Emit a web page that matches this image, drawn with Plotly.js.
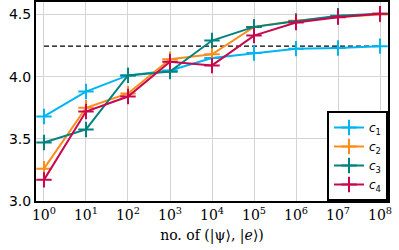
<!DOCTYPE html>
<html><head><meta charset="utf-8">
<script src="https://cdn.plot.ly/plotly-3.0.1.min.js"></script>
<style>body{margin:0;background:#fff}#g{width:399px;height:250px}</style>
</head><body><div id="g"></div>
<script>
const xs = [1, 10, 100, 1e3, 1e4, 1e5, 1e6, 1e7, 1e8];
const xTickText = ["10<sup>0</sup>","10<sup>1</sup>","10<sup>2</sup>","10<sup>3</sup>","10<sup>4</sup>","10<sup>5</sup>","10<sup>6</sup>","10<sup>7</sup>","10<sup>8</sup>"];
const seriesNames = ["<i>c</i><sub>1</sub>","<i>c</i><sub>2</sub>","<i>c</i><sub>3</sub>","<i>c</i><sub>4</sub>"];
const c1 = [3.68, 3.88, 4.01, 4.05, 4.15, 4.19, 4.225, 4.23, 4.245];
const c2 = [3.26, 3.75, 3.865, 4.14, 4.18, 4.40, 4.45, 4.48, 4.50];
const c3 = [3.47, 3.575, 4.01, 4.04, 4.29, 4.40, 4.445, 4.49, 4.505];
const c4 = [3.17, 3.72, 3.84, 4.12, 4.09, 4.33, 4.435, 4.478, 4.505];
const refLevel = 4.245;
const refX = [1, 1e8];
const colors = ["#00b4f0", "#ff8c1a", "#00827f", "#c8084e"];

const data = [c1, c2, c3, c4].map((ys, i) => ({
  x: xs, y: ys, name: seriesNames[i], type: "scatter", mode: "lines+markers",
  line: {color: colors[i], width: 2},
  marker: {symbol: "cross-thin-open", size: 11, color: colors[i], line: {color: colors[i], width: 2}}
}));
data.unshift({
  x: refX, y: [refLevel, refLevel], type: "scatter", mode: "lines", showlegend: false,
  line: {color: "#000", width: 1.4, dash: "5px,3px"}, hoverinfo: "skip"
});

const layout = {
  width: 399, height: 250,
  margin: {l: 36, r: 11, t: 2, b: 49},
  paper_bgcolor: "#fff", plot_bgcolor: "#fff",
  showlegend: true,
  legend: {x: 1, y: 0, xanchor: "right", yanchor: "bottom", bgcolor: "#fff",
    bordercolor: "#000", borderwidth: 2, font: {family: "DejaVu Sans", size: 12, color: "#000"},
    tracegroupgap: 0, itemwidth: 30},
  xaxis: {type: "log", range: [-0.19, 8.19], tickvals: xs, ticktext: xTickText,
    showgrid: true, gridcolor: "#d4d4d4", gridwidth: 1, zeroline: false,
    showline: true, linecolor: "#000", linewidth: 2, mirror: true, ticks: "",
    tickfont: {family: "DejaVu Serif", size: 14, color: "#000"},
    title: {text: "no. of (|ψ⟩, |<i>e</i>⟩)", font: {family: "DejaVu Serif", size: 14, color: "#000"}, standoff: 8}},
  yaxis: {range: [3.0, 4.6], tickvals: [3.0, 3.5, 4.0, 4.5], ticktext: ["3.0","3.5","4.0","4.5"],
    showgrid: true, gridcolor: "#d4d4d4", gridwidth: 1, zeroline: false,
    showline: true, linecolor: "#000", linewidth: 2, mirror: true, ticks: "",
    tickfont: {family: "DejaVu Sans", size: 14, color: "#000"}}
};
Plotly.newPlot("g", data, layout, {displayModeBar: false, staticPlot: true});
</script></body></html>
